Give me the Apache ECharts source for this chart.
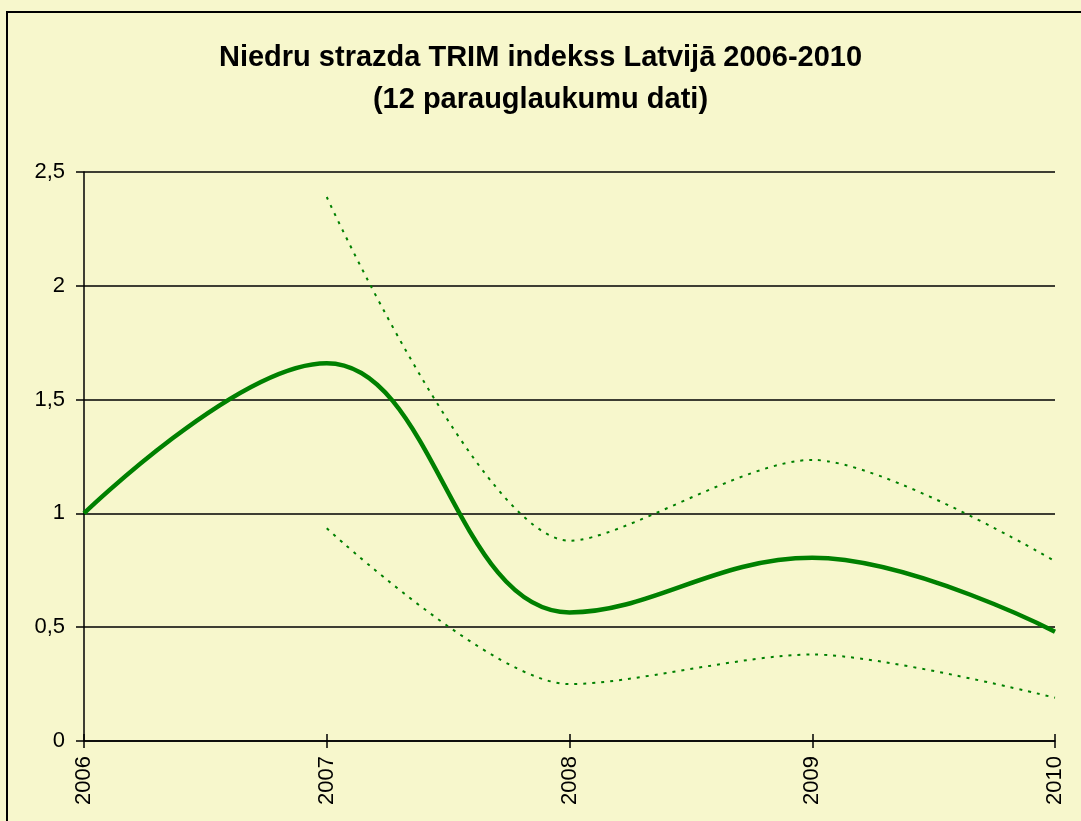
<!DOCTYPE html>
<html>
<head>
<meta charset="utf-8">
<script src="https://cdn.jsdelivr.net/npm/echarts@6/dist/echarts.min.js"></script>
<style>
  html, body { margin: 0; padding: 0; background: #fff; }
  #chart { width: 1081px; height: 821px; }
</style>
</head>
<body>
<div id="chart"></div>
<script>
const years = [2006, 2007, 2008, 2009, 2010]
const trimIndex = [1.0, 1.66, 0.565, 0.805, 0.48]
const limitYears = [2007, 2008, 2009, 2010]
const upperLimit = [2.39, 0.88, 1.235, 0.79]
const lowerLimit = [0.935, 0.25, 0.38, 0.19]
const yTicks = ['0', '0,5', '1', '1,5', '2', '2,5']

const green = '#008000'
const font = '"Liberation Sans", Arial, sans-serif'

const pairs = (xs, ys) => xs.map((x, i) => [x, ys[i]])

const chart = echarts.init(document.getElementById('chart'))

chart.setOption({
  backgroundColor: '#f7f7cc',
  animation: false,
  title: {
    text: 'Niedru strazda TRIM indekss Latvijā 2006-2010\n(12 parauglaukumu dati)',
    left: 'center',
    top: 32,
    textStyle: {
      fontFamily: font,
      fontSize: 29,
      fontWeight: 'bold',
      color: '#000',
      lineHeight: 42,
    },
  },
  graphic: [
    {
      type: 'rect',
      shape: { x: 7, y: 12, width: 1100, height: 900 },
      style: { fill: 'none', stroke: '#000', lineWidth: 2 },
      silent: true,
    },
  ],
  grid: {
    left: 84,
    right: 26,
    top: 172,
    bottom: 80,
  },
  xAxis: [
    {
      type: 'value',
      min: 2006,
      max: 2010,
      interval: 1,
      axisLine: { show: true, lineStyle: { color: '#000', width: 1.5 } },
      axisTick: { show: true, length: 7, lineStyle: { color: '#000', width: 1.5 } },
      splitLine: { show: false },
      axisLabel: {
        rotate: 90,
        margin: 15,
        fontFamily: font,
        fontSize: 22,
        color: '#000',
        formatter: (v) => String(v),
      },
    },
    {
      type: 'value',
      min: 2006,
      max: 2010,
      interval: 1,
      position: 'bottom',
      offset: 0,
      axisLine: { show: false },
      axisTick: { show: true, inside: true, length: 7, lineStyle: { color: '#000', width: 1.5 } },
      splitLine: { show: false },
      axisLabel: { show: false },
    },
  ],
  yAxis: {
    type: 'value',
    min: 0,
    max: 2.5,
    interval: 0.5,
    axisLine: { show: true, lineStyle: { color: '#000', width: 1.5 } },
    axisTick: { show: true, length: 8, lineStyle: { color: '#000', width: 1.5 } },
    splitLine: { show: true, lineStyle: { color: '#000', width: 1.5 } },
    axisLabel: {
      margin: 19,
      fontFamily: font,
      fontSize: 22,
      color: '#000',
      formatter: (v) => yTicks[Math.round(v / 0.5)],
    },
  },
  series: [
    {
      name: 'upper',
      type: 'line',
      data: pairs(limitYears, upperLimit),
      smooth: 0.28,
      symbol: 'none',
      lineStyle: { color: green, width: 2, type: [3, 6] },
    },
    {
      name: 'lower',
      type: 'line',
      data: pairs(limitYears, lowerLimit),
      smooth: 0.28,
      symbol: 'none',
      lineStyle: { color: green, width: 2, type: [3, 6] },
    },
    {
      name: 'TRIM',
      type: 'line',
      data: pairs(years, trimIndex),
      smooth: 0.4,
      symbol: 'none',
      lineStyle: { color: green, width: 4.5 },
      z: 3,
    },
  ],
})
</script>
</body>
</html>
